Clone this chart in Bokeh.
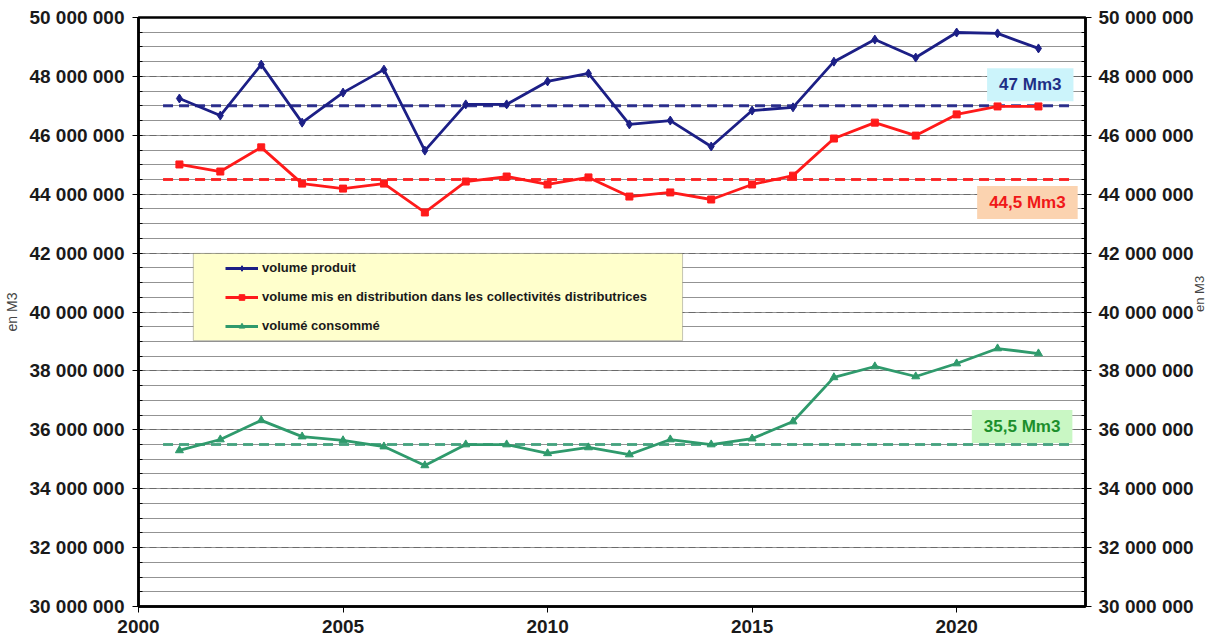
import math
from bokeh.plotting import figure
from bokeh.models import (LinearAxis, SingleIntervalTicker, CustomJSTickFormatter, Range1d,
                          Legend, LegendItem, BoxAnnotation, Label, FixedTicker)
from bokeh.embed import file_html
from bokeh.resources import INLINE

# ---------------- data ----------------
years = list(range(2001, 2023))
volume_produit = [47.25, 46.67, 48.40, 46.43, 47.45, 48.23, 45.48, 47.05, 47.05, 47.83, 48.10,
                  46.37, 46.50, 45.62, 46.84, 46.95, 48.50, 49.25, 48.64, 49.49, 49.46, 48.95]
volume_distribue = [45.01, 44.77, 45.59, 44.36, 44.19, 44.36, 43.38, 44.43, 44.60, 44.33, 44.57,
                    43.92, 44.06, 43.82, 44.33, 44.63, 45.89, 46.43, 45.99, 46.71, 46.98, 46.98]
volume_consomme = [35.30, 35.67, 36.32, 35.77, 35.64, 35.43, 34.79, 35.50, 35.50, 35.20, 35.40,
                   35.16, 35.67, 35.50, 35.70, 36.28, 37.78, 38.15, 37.81, 38.25, 38.76, 38.59]
moyennes = [47.0, 44.5, 35.5]                # average reference lines (millions m3)
moyenne_labels = ["47 Mm3", "44,5 Mm3", "35,5 Mm3"]
series_names = ["volume produit",
                "volume mis en distribution dans les collectivités distributrices",
                "volumé consommé"]
x_ticks = [2000, 2005, 2010, 2015, 2020]

M = 1_000_000
prod = [v * M for v in volume_produit]
dist = [v * M for v in volume_distribue]
cons = [v * M for v in volume_consomme]

BLUE = "#1c1f86"
RED = "#ff1a1a"
GREEN = "#2f9a6c"
FONT = "Liberation Sans"

p = figure(width=1217, height=639, output_backend="svg", toolbar_location=None,
           x_range=Range1d(2000, 2023.15), y_range=Range1d(30 * M, 50 * M),
           min_border_left=138, min_border_right=129, min_border_top=17, min_border_bottom=33,
           background_fill_color="white", border_fill_color="white")
p.outline_line_color = "black"
p.outline_line_width = 2.5

yticker = SingleIntervalTicker(interval=2 * M, num_minor_ticks=4)
fmt = CustomJSTickFormatter(code="return Math.round(tick).toString().replace(/\\B(?=(\\d{3})+(?!\\d))/g, ' ');")

p.yaxis.ticker = yticker
p.yaxis.formatter = fmt
p.xaxis.ticker = FixedTicker(ticks=x_ticks)

for ax in [p.xaxis[0], p.yaxis[0]]:
    ax.axis_line_color = "black"
    ax.axis_line_width = 2.5
    ax.major_tick_line_color = "black"
    ax.major_tick_out = 6
    ax.major_tick_in = 0
    ax.major_label_text_font = FONT
    ax.major_label_text_font_style = "bold"
    ax.major_label_text_font_size = "19px"
    ax.major_label_text_color = "#1a1a1a"
p.xaxis.minor_tick_line_color = None
p.xaxis.major_label_standoff = 7
p.yaxis.minor_tick_in = 4
p.yaxis.minor_tick_out = 0
p.yaxis.minor_tick_line_color = "black"
p.yaxis.major_label_standoff = 8
p.yaxis.axis_label = "en M3"
p.yaxis.axis_label_text_font = FONT
p.yaxis.axis_label_text_font_style = "normal"
p.yaxis.axis_label_text_font_size = "14px"
p.yaxis.axis_label_standoff = 6

ra = LinearAxis(ticker=yticker, formatter=fmt, axis_label="en M3")
ra.axis_line_color = "black"
ra.axis_line_width = 2.5
ra.major_tick_out = 6
ra.major_tick_in = 0
ra.minor_tick_in = 4
ra.minor_tick_out = 0
ra.major_label_text_font = FONT
ra.major_label_text_font_style = "bold"
ra.major_label_text_font_size = "19px"
ra.major_label_text_color = "#1a1a1a"
ra.major_label_standoff = 7
ra.axis_label_text_font = FONT
ra.axis_label_text_font_style = "normal"
ra.axis_label_text_font_size = "13px"
ra.axis_label_standoff = 3
ra.axis_label_orientation = math.pi / 2
p.add_layout(ra, "right")

p.xgrid.grid_line_color = None
p.ygrid.grid_line_color = "#6a6a6a"
p.ygrid.grid_line_dash = "7 4"
p.ygrid.grid_line_width = 1.2
p.ygrid.minor_grid_line_color = "#111111"
p.ygrid.minor_grid_line_dash = "1 1"
p.ygrid.minor_grid_line_width = 1
p.ygrid.minor_grid_line_alpha = 0.9

# average reference lines
avg_colors = [BLUE, RED, "#3fa27c"]
for m, c in zip(moyennes, avg_colors):
    p.line([2000.6, 2022.8], [m * M, m * M], line_color=c, line_width=3, line_dash="10 6",
           line_alpha=0.9)

# series
l1 = p.line(years, prod, line_color=BLUE, line_width=2.8)
s1 = p.scatter(years, prod, marker="diamond", size=9, fill_color=BLUE, line_color=BLUE)
l2 = p.line(years, dist, line_color=RED, line_width=2.8)
s2 = p.scatter(years, dist, marker="square", size=7, fill_color=RED, line_color=RED)
l3 = p.line(years, cons, line_color=GREEN, line_width=2.8)
s3 = p.scatter(years, cons, marker="triangle", size=8, fill_color=GREEN, line_color=GREEN)

# legend background box
box = BoxAnnotation(left=2001.34, right=2013.30, bottom=39.03 * M, top=41.99 * M,
                    fill_color="#ffffcc", fill_alpha=1.0, line_color="#404040", line_width=1,
                    level="annotation")
p.add_layout(box)

legend = Legend(items=[LegendItem(label=series_names[0], renderers=[l1, s1]),
                       LegendItem(label=series_names[1], renderers=[l2, s2]),
                       LegendItem(label=series_names[2], renderers=[l3, s3])],
                location=(87, 273), background_fill_alpha=0.0, border_line_color=None,
                padding=0, margin=0, spacing=14, glyph_width=33, glyph_height=14,
                label_height=14, label_standoff=4,
                label_text_font=FONT, label_text_font_style="bold",
                label_text_font_size="13px", label_text_color="#1a1a1a")
p.add_layout(legend)

# average labels
label_pos = [(2021.8, 47.72), (2021.73, 43.72), (2021.6, 36.11)]
label_bg = ["#ccf4fb", "#fbd3b0", "#c9f7c4"]
label_fg = ["#1f2f86", "#f01818", "#1c8f2c"]
for (lx, ly), t, bg, fg in zip(label_pos, moyenne_labels, label_bg, label_fg):
    p.add_layout(Label(x=lx, y=ly * M, text=t, text_align="center", text_baseline="middle",
                       text_font=FONT, text_font_style="bold", text_font_size="17px",
                       text_color=fg, background_fill_color=bg, padding=(12, 7)))

open("out.html", "w").write(file_html(p, INLINE))
